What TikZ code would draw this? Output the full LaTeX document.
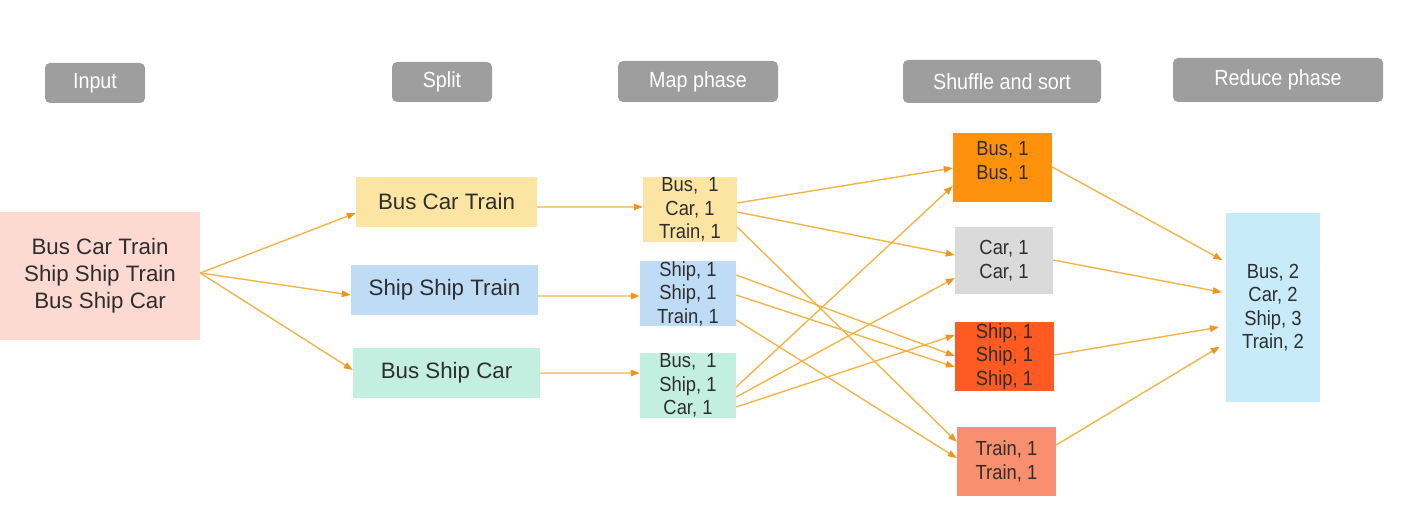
\documentclass[tikz,border=0pt]{standalone}
\usepackage{fontspec}
\setmainfont{Liberation Sans}
\newfontfamily\condfont[FakeStretch=0.9]{Liberation Sans}
\usetikzlibrary{arrows.meta}
\definecolor{hdr}{HTML}{9E9E9E}
\definecolor{inpink}{HTML}{FCD9D1}
\definecolor{cyel}{HTML}{FCE4A3}
\definecolor{cblu}{HTML}{BEDCF6}
\definecolor{cmint}{HTML}{C3EFE1}
\definecolor{cbus}{HTML}{FE920C}
\definecolor{ccar}{HTML}{DADADA}
\definecolor{cship}{HTML}{FE5A22}
\definecolor{ctrain}{HTML}{F88F6E}
\definecolor{cred}{HTML}{C8EBF9}
\definecolor{arrline}{HTML}{F2B445}
\definecolor{arrhead}{HTML}{EE961E}
\definecolor{txt}{HTML}{2E2E2E}
\tikzset{
  hdrbox/.style={fill=hdr, rounded corners=5bp, text=white, inner sep=0pt,
    font=\condfont\fontsize{22}{25}\selectfont},
  bigbox/.style={inner sep=0pt, text=txt, align=center,
    font=\fontsize{22.4}{27}\selectfont},
  smallbox/.style={inner sep=0pt, text=txt, align=center,
    font=\condfont\fontsize{20.5}{23.5}\selectfont},
  conn/.style={draw=arrline, line width=1.4bp,
    -{Triangle[length=9bp,width=6.5bp,color=arrhead]}},
}
\begin{document}
\begin{tikzpicture}[x=1bp,y=-1bp]
\useasboundingbox (0,0) rectangle (1404,518);
% headers
\node[hdrbox, minimum width=100bp, minimum height=40bp] (hin) at (95,83) {Input};
\node[hdrbox, minimum width=100bp, minimum height=40bp] (hsp) at (442,82) {Split};
\node[hdrbox, minimum width=160bp, minimum height=41bp] (hmp) at (698,81.5) {Map phase};
\node[hdrbox, minimum width=198bp, minimum height=43bp] (hsh) at (1002,81.5) {Shuffle and sort};
\node[hdrbox, minimum width=210bp, minimum height=44bp] (hrd) at (1278,80) {Reduce phase};
% input
\node[bigbox, fill=inpink, minimum width=200bp, minimum height=128bp] (in) at (100,276)
  {Bus Car Train\\Ship Ship Train\\Bus Ship Car};
% split
\node[bigbox, fill=cyel, minimum width=181bp, minimum height=50bp] (s1) at (446.5,202) {Bus Car Train};
\node[bigbox, fill=cblu, minimum width=187bp, minimum height=50bp] (s2) at (444.5,290) {Ship Ship Train};
\node[bigbox, fill=cmint, minimum width=187bp, minimum height=50bp] (s3) at (446.5,373) {Bus Ship Car};
% map
\node[smallbox, fill=cyel, minimum width=94bp, minimum height=65bp] (m1) at (690,209.5) {Bus,\ \ 1\\Car, 1\\Train, 1};
\node[smallbox, fill=cblu, minimum width=96bp, minimum height=63bp] (m2) at (688,293.5) {Ship, 1\\Ship, 1\\Train, 1};
\node[smallbox, fill=cmint, minimum width=96bp, minimum height=65bp] (m3) at (688,385.5) {Bus,\ \ 1\\Ship, 1\\Car, 1};
% shuffle
\node[smallbox, fill=cbus, minimum width=99bp, minimum height=69bp, text depth=14bp] (bus) at (1002.5,167.5) {Bus, 1\\Bus, 1};
\node[smallbox, fill=ccar, minimum width=98bp, minimum height=67bp] (car) at (1004,260.5) {Car, 1\\Car, 1};
\node[smallbox, fill=cship, minimum width=99bp, minimum height=69bp] (ship) at (1004.5,356.5) {Ship, 1\\Ship, 1\\Ship, 1};
\node[smallbox, fill=ctrain, minimum width=99bp, minimum height=69bp] (train) at (1006.5,461.5) {Train, 1\\Train, 1};
% reduce
\node[smallbox, fill=cred, minimum width=94bp, minimum height=189bp] (red) at (1273,307.5) {Bus, 2\\Car, 2\\Ship, 3\\Train, 2};
% input -> split
\draw[conn] ([yshift=3bp]in.east) -- ([yshift=-11bp]s1.west);
\draw[conn] ([yshift=3bp]in.east) -- ([yshift=-5bp]s2.west);
\draw[conn] ([yshift=3bp]in.east) -- ([yshift=3bp]s3.west);
% split -> map
\draw[conn] ([yshift=-5bp]s1.east) -- ([yshift=2.5bp]m1.west);
\draw[conn] ([yshift=-6bp]s2.east) -- ([yshift=-2.5bp]m2.west);
\draw[conn] ([yshift=0bp]s3.east) -- ([yshift=12.5bp]m3.west);
% map -> shuffle
\draw[conn] ([yshift=6.5bp]m1.east) -- ([yshift=-0.5bp]bus.west);
\draw[conn] ([yshift=-2.5bp]m1.east) -- ([yshift=5.5bp]car.west);
\draw[conn] ([yshift=-17.5bp]m1.east) -- ([yshift=19.5bp]train.west);
\draw[conn] ([yshift=18.5bp]m2.east) -- ([yshift=0.5bp]ship.west);
\draw[conn] ([yshift=-1.5bp]m2.east) -- ([yshift=-10.5bp]ship.west);
\draw[conn] ([yshift=-26.5bp]m2.east) -- ([yshift=3.5bp]train.west);
\draw[conn] ([yshift=-1.5bp]m3.east) -- ([yshift=-18.5bp]bus.west);
\draw[conn] ([yshift=-11.5bp]m3.east) -- ([yshift=-17.5bp]car.west);
\draw[conn] ([yshift=-21.5bp]m3.east) -- ([yshift=21.5bp]ship.west);
% shuffle -> reduce
\draw[conn, shorten >=4bp] ([yshift=0.5bp]bus.east) -- ([yshift=45.5bp]red.west);
\draw[conn, shorten >=4bp] ([yshift=0.5bp]car.east) -- ([yshift=14.5bp]red.west);
\draw[conn, shorten >=7bp] ([yshift=1.5bp]ship.east) -- ([yshift=-18.5bp]red.west);
\draw[conn, shorten >=7bp] ([yshift=16.5bp]train.east) -- ([yshift=-35.5bp]red.west);
\end{tikzpicture}
\end{document}
